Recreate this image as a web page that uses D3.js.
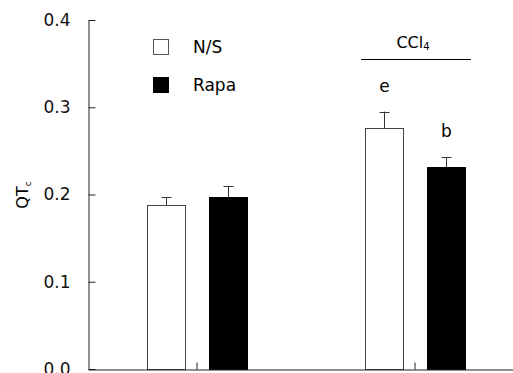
<!DOCTYPE html>
<html>
<head>
<meta charset="utf-8">
<script src="https://cdn.jsdelivr.net/npm/d3@7"></script>
<style>
  body { margin: 0; background: #fff; }
  svg { display: block; font-family: "DejaVu Sans", sans-serif; }
</style>
</head>
<body>
<svg id="chart" width="513" height="373"></svg>
<script>
// chart data
const groups = ['N/S group', 'CCl4 group'];
const series = ['N/S', 'Rapa'];
const meanNS = [0.188, 0.276];
const meanRapa = [0.197, 0.231];
const errNS = [0.009, 0.019];
const errRapa = [0.013, 0.012];
const marks = [['', ''], ['e', 'b']];
const yTicks = [0.0, 0.1, 0.2, 0.3, 0.4];

const svg = d3.select('#chart');
const x0 = 88, yBottom = 369, yTop = 20;

const y = d3.scaleLinear().domain([0, 0.4]).range([yBottom, yTop]);
const x = d3.scaleBand().domain(groups).range([x0, 524]);
const xInner = d3.scaleBand().domain(series).range([-50, 50]).paddingInner(0.39);

const colors = { 'N/S': '#fff', 'Rapa': '#000' };

const rows = [];
groups.forEach((g, i) => {
  rows.push({ g, s: 'N/S', v: meanNS[i], e: errNS[i], m: marks[i][0] });
  rows.push({ g, s: 'Rapa', v: meanRapa[i], e: errRapa[i], m: marks[i][1] });
});

// error bars (drawn under the bars so only the upper half shows)
const cx = d => Math.round(x(d.g) + x.bandwidth() / 2 + xInner(d.s) + xInner.bandwidth() / 2) + 0.5;
svg.selectAll('.err').data(rows).enter().append('line')
  .attr('x1', cx).attr('x2', cx)
  .attr('y1', d => y(d.v)).attr('y2', d => y(d.v + d.e))
  .attr('stroke', '#333').attr('stroke-width', 1);
svg.selectAll('.cap').data(rows).enter().append('line')
  .attr('x1', d => cx(d) - 5).attr('x2', d => cx(d) + 5)
  .attr('y1', d => Math.round(y(d.v + d.e)) + 0.5).attr('y2', d => Math.round(y(d.v + d.e)) + 0.5)
  .attr('stroke', '#333').attr('stroke-width', 1);

// bars
svg.selectAll('.bar').data(rows).enter().append('rect')
  .attr('x', d => Math.round(x(d.g) + x.bandwidth() / 2 + xInner(d.s)) + 0.5)
  .attr('y', d => Math.round(y(d.v)) + 0.5)
  .attr('width', Math.round(xInner.bandwidth()))
  .attr('height', d => yBottom - Math.round(y(d.v)))
  .attr('fill', d => colors[d.s])
  .attr('stroke', d => d.s === 'N/S' ? '#444' : '#000')
  .attr('stroke-width', 1);

// significance letters
svg.selectAll('.mark').data(rows.filter(d => d.m)).enter().append('text')
  .attr('x', cx)
  .attr('y', d => y(d.v + d.e) - 20)
  .attr('text-anchor', 'middle')
  .attr('font-size', 17)
  .text(d => d.m);

// axes
const yAxis = d3.axisLeft(y).tickValues(yTicks).tickSizeInner(-7).tickSizeOuter(0)
  .tickPadding(18).tickFormat(d3.format('.1f'));
const gy = svg.append('g').attr('transform', `translate(${x0 + 0.5},0)`).call(yAxis);
gy.select('.domain').attr('stroke', '#222');
gy.selectAll('.tick line').attr('stroke', '#222');
gy.selectAll('text').attr('font-size', 17).attr('font-family', '"DejaVu Sans", sans-serif').attr('fill', '#111');

const xAxis = d3.axisBottom(x).tickSizeInner(-7).tickSizeOuter(0).tickFormat('');
const gx = svg.append('g').attr('transform', `translate(0,${yBottom + 0.5})`).call(xAxis);
gx.select('.domain').attr('stroke', '#222');
gx.selectAll('.tick line').attr('stroke', '#222');

// y label
const yl = svg.append('text')
  .attr('transform', `translate(28,195) rotate(-90)`)
  .attr('text-anchor', 'middle')
  .attr('font-size', 16);
yl.append('tspan').text('QT');
yl.append('tspan').attr('font-size', 9).attr('dy', 3).text('c');

// legend
const legend = svg.selectAll('.leg').data(series).enter().append('g')
  .attr('transform', (d, i) => `translate(153,${39 + i * 38})`);
legend.append('rect')
  .attr('x', 0.5).attr('y', 0.5).attr('width', 15).attr('height', 15)
  .attr('fill', d => colors[d]).attr('stroke', d => d === 'N/S' ? '#555' : '#000');
legend.append('text')
  .attr('x', 40).attr('y', 14)
  .attr('font-size', 17)
  .text(d => d);

// CCl4 bracket
const gx2 = x(groups[1]);
svg.append('line')
  .attr('x1', gx2 + x.bandwidth() / 2 - 54).attr('x2', gx2 + x.bandwidth() / 2 + 56)
  .attr('y1', 59.5).attr('y2', 59.5)
  .attr('stroke', '#000');
const ct = svg.append('text')
  .attr('x', gx2 + x.bandwidth() / 2 - 2).attr('y', 48)
  .attr('text-anchor', 'middle')
  .attr('font-size', 16);
ct.append('tspan').text('CCl');
ct.append('tspan').attr('font-size', 10).attr('dy', 2).text('4');
</script>
</body>
</html>
